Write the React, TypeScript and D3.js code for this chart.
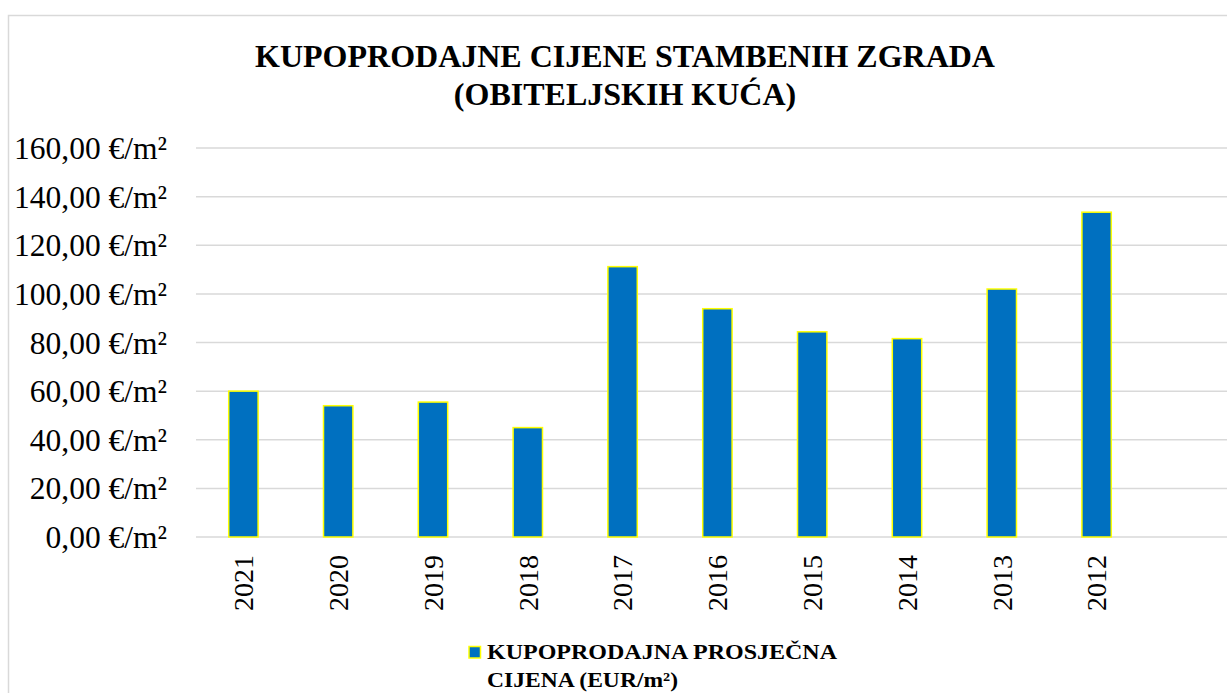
import React from "react";
import * as d3 from "d3";

const years = ["2021", "2020", "2019", "2018", "2017", "2016", "2015", "2014", "2013", "2012"];
const prices = [60.0, 54.0, 55.5, 45.0, 111.2, 93.9, 84.4, 81.6, 102.0, 133.6];
const yTicks = [0, 20, 40, 60, 80, 100, 120, 140, 160];
const titleLines = ["KUPOPRODAJNE CIJENE STAMBENIH ZGRADA", "(OBITELJSKIH KUĆA)"];
const legendLines = ["KUPOPRODAJNA PROSJEČNA", "CIJENA (EUR/m²)"];

const W = 1227;
const H = 693;
const FONT = "'Liberation Serif', 'Times New Roman', serif";

export default function App() {
  const plotLeft = 196;
  const bandRight = 1144;
  const plotRight = 1240;
  const plotTop = 148;
  const plotBottom = 537;

  const x = d3.scaleBand<string>().domain(years).range([plotLeft, bandRight]).paddingInner(0.69).paddingOuter(0.345);
  const y = d3.scaleLinear().domain([0, 160]).range([plotBottom, plotTop]);
  const fmt = (v: number) => v.toFixed(2).replace(".", ",") + " €/m²";
  const legendWidths = [350, 191];

  return (
    <div style={{ position: "absolute", left: 0, top: 0 }}>
      <svg width={W} height={H} style={{ display: "block", background: "#fff" }} fontFamily={FONT}>
        <rect x={8.5} y={15.5} width={W + 20} height={H + 20} fill="#fff" stroke="#d9d9d9" strokeWidth={1.5} />
        {titleLines.map((t, i) => (
          <text key={t} x={625} y={67 + i * 38} textAnchor="middle" fontWeight="bold" fontSize={32} fill="#000">
            {t}
          </text>
        ))}
        {yTicks.map((v) => (
          <g key={v}>
            <line x1={plotLeft} x2={plotRight} y1={y(v)} y2={y(v)} stroke="#d9d9d9" strokeWidth={1.5} />
            <text x={167} y={y(v)} dy="0.35em" textAnchor="end" fontSize={31.5} fill="#000">
              {fmt(v)}
            </text>
          </g>
        ))}
        {years.map((yr, i) => (
          <rect
            key={yr}
            x={x(yr)!}
            y={y(prices[i])}
            width={x.bandwidth()}
            height={y(0) - y(prices[i])}
            fill="#0070C0"
            stroke="#FFFF00"
            strokeWidth={1.5}
          />
        ))}
        {years.map((yr) => {
          const cx = x(yr)! + x.bandwidth() / 2;
          return (
            <text
              key={"l" + yr}
              transform={`translate(${cx},555) rotate(-90)`}
              textAnchor="end"
              dy="0.35em"
              fontSize={28}
              fill="#000"
            >
              {yr}
            </text>
          );
        })}
        <rect x={469} y={646.5} width={11.5} height={11.5} fill="#0070C0" stroke="#FFFF00" strokeWidth={1.5} />
        {legendLines.map((t, i) => (
          <text
            key={t}
            x={487}
            y={659 + i * 28}
            fontWeight="bold"
            fontSize={21}
            fill="#000"
            textLength={legendWidths[i]}
            lengthAdjust="spacingAndGlyphs"
          >
            {t}
          </text>
        ))}
      </svg>
    </div>
  );
}
